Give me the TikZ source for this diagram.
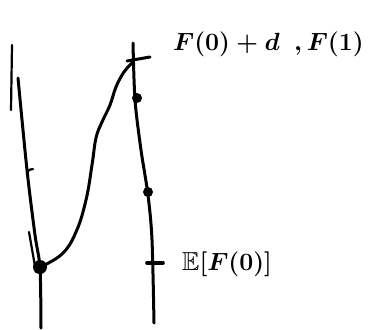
\documentclass[tikz,border=0pt]{standalone}
\usepackage{amssymb}
\usetikzlibrary{positioning}
\tikzset{
  ink/.style={line width=3pt, line cap=round, line join=round, color=black},
  inkthin/.style={line width=2.2pt, line cap=round, color=black},
  dotmark/.style={circle, fill=black, inner sep=0pt, minimum size=10pt},
  bigdot/.style={circle, fill=black, inner sep=0pt, minimum size=14pt},
  lbl/.style={font=\fontsize{26}{30}\selectfont\boldmath, inner sep=0pt},
}
\begin{document}
\begin{tikzpicture}[x=1pt, y=-1pt]
  \useasboundingbox (0,0) rectangle (371,329);
  % left axis, drawn twice
  \draw[inkthin] (12,45) -- (11,110);
  \draw[ink] plot[smooth] coordinates {(18,78) (27,170) (35,235) (40,268) (41,328)};
  \draw[inkthin] (29,232) -- (36,272);
  \draw[inkthin] (27,175) .. controls (28,170) .. (33,169);
  % right axis
  \draw[ink] plot[smooth] coordinates {(133,43) (135,100) (141,150) (148,195) (152,240) (154,323)};
  \node[bigdot] (low) at (40,267) {};
  \coordinate (top) at (133,62);
  \node[dotmark] (mid1) at (137,98) {};
  \node[dotmark] (mid2) at (148,192) {};
  % tick marks
  \draw[ink] (127,61) -- (150,57);
  \draw[ink, line width=3.6pt] (147,263) -- (163,263);
  % the curve
  \draw[ink] plot[smooth, tension=0.7] coordinates {(low.center) (62,254) (76,232) (86,200) (92,165) (96,138) (102,122) (110,105) (116,87) (124,72) (top)};
  % labels
  \node[lbl, anchor=west] (up) at (173,44) {$F(0)+d$};
  \node[lbl, right=14pt of up] (one) {$,F(1)$};
  \node[lbl, anchor=west] (mean) at (182,264) {$\mathbb{E}[F(0)]$};
\end{tikzpicture}
\end{document}
